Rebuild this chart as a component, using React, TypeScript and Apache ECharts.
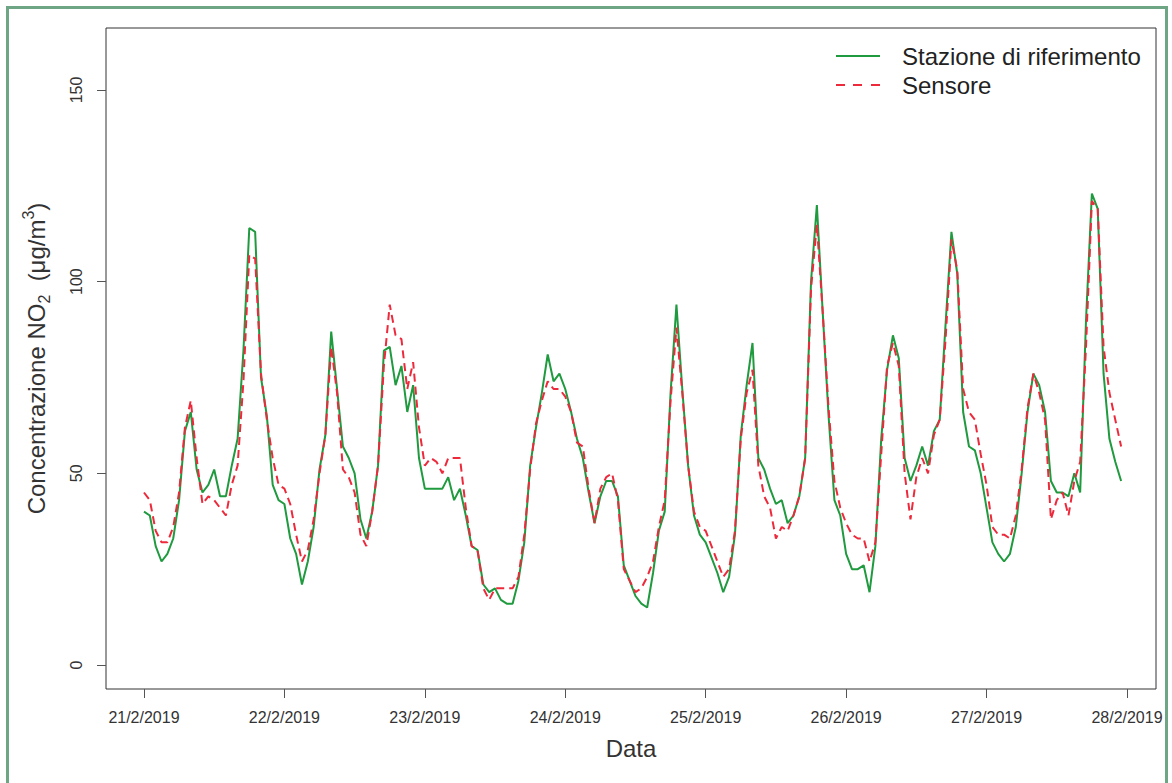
import React, { useEffect, useRef } from "react";
import * as echarts from "echarts";

const dateLabels = ["21/2/2019", "22/2/2019", "23/2/2019", "24/2/2019", "25/2/2019", "26/2/2019", "27/2/2019", "28/2/2019"];
const tickHours = [0, 24, 48, 72, 96, 120, 144, 168];
const yTicks = [0, 50, 100, 150];

// hourly values from 21/2/2019 00:00
const reference = [
  40, 39, 31, 27, 29, 33, 43, 61, 66, 51, 45, 47, 51, 44, 44, 52, 59, 82, 114, 113, 75, 65, 47, 43,
  42, 33, 29, 21, 27, 36, 51, 60, 87, 72, 57, 54, 50, 38, 33, 40, 52, 82, 83, 73, 78, 66, 73, 54,
  46, 46, 46, 46, 49, 43, 46, 39, 31, 30, 21, 19, 20, 17, 16, 16, 22, 32, 52, 62, 71, 81, 74, 76,
  72, 66, 59, 54, 45, 37, 44, 48, 48, 44, 26, 22, 18, 16, 15, 24, 35, 40, 71, 94, 72, 52, 39, 34,
  32, 28, 24, 19, 23, 34, 60, 73, 84, 54, 51, 46, 42, 43, 37, 39, 44, 54, 100, 120, 92, 65, 43, 39,
  29, 25, 25, 26, 19, 31, 59, 77, 86, 80, 54, 48, 52, 57, 52, 61, 64, 89, 113, 102, 66, 57, 56, 50,
  41, 32, 29, 27, 29, 36, 50, 66, 76, 73, 66, 48, 45, 45, 44, 50, 45, 90, 123, 119, 76, 59, 53, 48,
];
const sensor = [
  45, 43, 35, 32, 32, 36, 45, 62, 69, 54, 42, 44, 43, 41, 39, 47, 52, 74, 107, 106, 76, 64, 54, 47,
  46, 42, 34, 27, 30, 38, 50, 60, 83, 71, 51, 49, 45, 34, 31, 40, 52, 78, 94, 86, 85, 72, 79, 62,
  52, 54, 53, 50, 54, 54, 54, 41, 31, 30, 20, 17, 20, 20, 20, 20, 23, 34, 51, 63, 69, 74, 72, 72,
  70, 66, 58, 57, 46, 37, 46, 49, 50, 43, 25, 22, 19, 20, 23, 27, 36, 43, 69, 88, 71, 52, 40, 36,
  35, 31, 27, 23, 25, 35, 59, 71, 77, 52, 44, 41, 33, 36, 35, 39, 44, 54, 98, 115, 92, 67, 48, 41,
  37, 34, 33, 33, 27, 32, 55, 78, 84, 78, 50, 38, 49, 54, 50, 60, 64, 85, 111, 103, 72, 66, 64, 55,
  47, 36, 34, 34, 33, 39, 51, 67, 76, 71, 64, 38, 43, 45, 39, 48, 53, 83, 121, 119, 83, 71, 64, 57,
];

const GREEN = "#1f9a3f";
const RED = "#ec2a3c";
const FONT = 'Arial, "Liberation Sans", Helvetica, sans-serif';

export default function App() {
  const ref = useRef<HTMLDivElement>(null);
  useEffect(() => {
    const chart = echarts.init(ref.current!, null, { renderer: "svg" });
    chart.setOption({
      animation: false,
      backgroundColor: "#ffffff",
      grid: {
        left: 106,
        top: 28,
        right: 16,
        bottom: 94,
        show: true,
        borderColor: "#333",
        borderWidth: 1,
      },
      legend: {
        orient: "vertical",
        left: 831,
        top: 39,
        itemWidth: 44,
        itemHeight: 2,
        itemGap: 5,
        itemStyle: { borderWidth: 0 },
        textStyle: { fontSize: 24, color: "#222", fontFamily: FONT, lineHeight: 24, padding: [0, 0, 0, 17] },
        data: [
          { name: "Stazione di riferimento", icon: "path://M0,0H44V2H0Z" },
          { name: "Sensore", icon: "path://M0,0H9V2H0ZM17,0H26V2H17ZM35,0H44V2H35Z" },
        ],
      },
      xAxis: {
        type: "value",
        min: -6.49,
        max: 172.96,
        axisLine: { show: false, onZero: false },
        axisTick: { show: true, inside: false, length: 9, lineStyle: { color: "#555" }, customValues: tickHours },
        axisLabel: {
          customValues: tickHours,
          formatter: (v: number) => dateLabels[Math.round(v / 24)],
          fontSize: 16,
          color: "#333",
          margin: 20,
          fontFamily: FONT,
        },
        splitLine: { show: false },
        name: "Data",
        nameLocation: "middle",
        nameGap: 47,
        nameTextStyle: { fontSize: 24, color: "#333", fontFamily: FONT },
      },
      yAxis: {
        type: "value",
        min: -6.26,
        max: 166.17,
        axisLine: { show: false, onZero: false },
        axisTick: { show: true, inside: false, length: 9, lineStyle: { color: "#555" }, customValues: yTicks },
        axisLabel: {
          customValues: yTicks,
          rotate: 90,
          fontSize: 16,
          color: "#333",
          margin: 22,
          fontFamily: FONT,
        },
        splitLine: { show: false },
        name: "Concentrazione NO{sub|2}  (μg/m{sup|3})",
        nameLocation: "middle",
        nameRotate: 90,
        nameGap: 54,
        nameTextStyle: {
          fontSize: 24,
          color: "#333",
          fontFamily: FONT,
          lineHeight: 32,
          rich: {
            sub: { fontSize: 16, fontFamily: FONT, color: "#333", verticalAlign: "bottom", lineHeight: 16 },
            sup: { fontSize: 16, fontFamily: FONT, color: "#333", verticalAlign: "top", lineHeight: 16 },
          },
        },
      },
      graphic: [
        {
          type: "rect",
          silent: true,
          shape: { x: 7.5, y: 7.5, width: 1159, height: 800 },
          style: { fill: "none", stroke: "#6ea584", lineWidth: 3 },
        },
      ],
      series: [
        {
          name: "Stazione di riferimento",
          type: "line",
          data: reference.map((v, i) => [i, v]),
          symbol: "none",
          showSymbol: false,
          lineStyle: { color: GREEN, width: 2 },
          itemStyle: { color: GREEN },
          z: 2,
        },
        {
          name: "Sensore",
          type: "line",
          data: sensor.map((v, i) => [i, v]),
          symbol: "none",
          showSymbol: false,
          lineStyle: { color: RED, width: 2, type: [8, 5] },
          itemStyle: { color: RED },
          z: 3,
        },
      ],
    });
    return () => chart.dispose();
  }, []);
  return (
    <div
      ref={ref}
      style={{ position: "fixed", left: 0, top: 0, width: 1172, height: 783, background: "#fff" }}
    />
  );
}
